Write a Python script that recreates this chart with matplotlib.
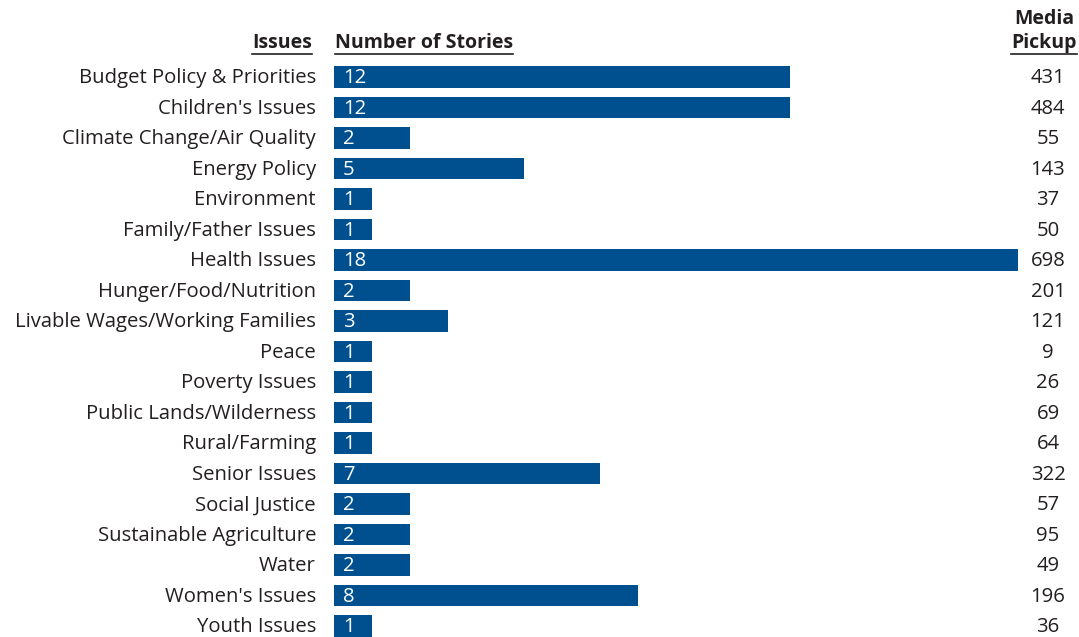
import matplotlib
matplotlib.use("Agg")
import matplotlib.pyplot as plt
from matplotlib.lines import Line2D

plt.rcParams['font.family'] = ['Open Sans', 'DejaVu Sans']

issues = ["Budget Policy & Priorities", "Children's Issues", "Climate Change/Air Quality",
          "Energy Policy", "Environment", "Family/Father Issues", "Health Issues",
          "Hunger/Food/Nutrition", "Livable Wages/Working Families", "Peace",
          "Poverty Issues", "Public Lands/Wilderness", "Rural/Farming", "Senior Issues",
          "Social Justice", "Sustainable Agriculture", "Water", "Women's Issues",
          "Youth Issues"]
stories = [12, 12, 2, 5, 1, 1, 18, 2, 3, 1, 1, 1, 1, 7, 2, 2, 2, 8, 1]
pickup = [431, 484, 55, 143, 37, 50, 698, 201, 121, 9, 26, 69, 64, 322, 57, 95, 49, 196, 36]

W, H = 1079, 637
fig = plt.figure(figsize=(W / 100, H / 100), dpi=100)
bar_col = '#00508f'
txt_col = '#231f20'

# axes placed so x 0..18 spans px 334..1018 and rows sit at 77..626
x0, x1 = 334, 1018
row = (626 - 77) / 18
top = 77 - row / 2
bot = 626 + row / 2
ax = fig.add_axes([x0 / W, 1 - bot / H, (x1 - x0) / W, (bot - top) / H])
ypos = list(range(len(issues)))
ax.barh(ypos, stories, height=0.72, color=bar_col)
ax.set_xlim(0, 18)
ax.set_ylim(len(issues) - 0.5, -0.5)
ax.axis('off')

fs = 14.6
px = 18 / 684  # data units per pixel
for i, (name, s, p) in enumerate(zip(issues, stories, pickup)):
    ax.text(-18 * px, i + 0.04, name, ha='right', va='center', fontsize=fs, color=txt_col)
    ax.text(9 * px, i + 0.04, str(s), ha='left', va='center', fontsize=fs, color='white')
    ax.text((1048 - 334) * px, i + 0.04, str(p), ha='center', va='center', fontsize=fs,
            color=txt_col)

hfs = 14
heads = [
    fig.text(312 / W, 1 - 43 / H, "Issues", ha='right', va='center', fontsize=hfs,
             fontweight='bold', color=txt_col),
    fig.text(335 / W, 1 - 43 / H, "Number of Stories", ha='left', va='center', fontsize=hfs,
             fontweight='bold', color=txt_col),
    fig.text(1044 / W, 1 - 43 / H, "Pickup", ha='center', va='center', fontsize=hfs,
             fontweight='bold', color=txt_col),
]
fig.text(1044 / W, 1 - 19 / H, "Media", ha='center', va='center', fontsize=hfs,
         fontweight='bold', color=txt_col)

# underline the headers
fig.canvas.draw()
r = fig.canvas.get_renderer()
for t in heads:
    bb = t.get_window_extent(r)
    y = 1 - 54 / H
    fig.add_artist(Line2D([bb.x0 / W, bb.x1 / W], [y, y], color=txt_col, lw=1.2,
                          transform=fig.transFigure))

fig.savefig("out.png", dpi=100)
